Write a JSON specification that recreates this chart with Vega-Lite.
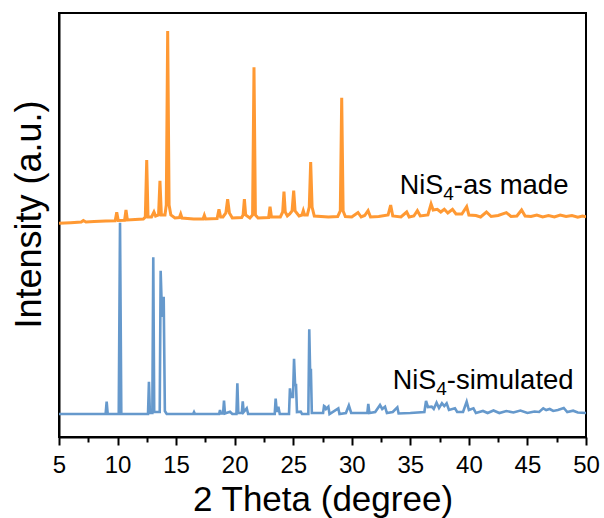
{
  "$schema": "https://vega.github.io/schema/vega-lite/v6.json",
  "width": 527,
  "height": 424,
  "autosize": {"type": "none"},
  "padding": {"left": 59, "top": 13, "right": 18, "bottom": 81},
  "config": {
    "view": {"stroke": "black", "strokeWidth": 2},
    "font": "Liberation Sans",
    "axis": {"labelFont": "Liberation Sans", "titleFont": "Liberation Sans"}
  },
  "datasets": {
    "made": [
      {"x": 5, "y": 213.7}, {"x": 6, "y": 214.3}, {"x": 6.9, "y": 215}, {"x": 7.08, "y": 216.5}, {"x": 7.3, "y": 215},
      {"x": 8, "y": 215.5}, {"x": 9, "y": 216}, {"x": 9.8, "y": 216.3}, {"x": 9.93, "y": 224.7}, {"x": 10.06, "y": 216.5},
      {"x": 10.6, "y": 216.7}, {"x": 10.72, "y": 227}, {"x": 10.84, "y": 217}, {"x": 11.5, "y": 217.5}, {"x": 12.2, "y": 218},
      {"x": 12.37, "y": 220}, {"x": 12.49, "y": 277}, {"x": 12.6, "y": 220}, {"x": 12.9, "y": 220}, {"x": 13.11, "y": 225},
      {"x": 13.25, "y": 221}, {"x": 13.5, "y": 222}, {"x": 13.62, "y": 256.3}, {"x": 13.74, "y": 222}, {"x": 14.05, "y": 222},
      {"x": 14.16, "y": 232}, {"x": 14.28, "y": 406}, {"x": 14.4, "y": 232}, {"x": 14.55, "y": 222}, {"x": 14.9, "y": 219},
      {"x": 15.28, "y": 219.5}, {"x": 15.39, "y": 223}, {"x": 15.5, "y": 219}, {"x": 16.5, "y": 218}, {"x": 17.3, "y": 218},
      {"x": 17.41, "y": 221.7}, {"x": 17.52, "y": 218}, {"x": 18.5, "y": 218.5}, {"x": 18.66, "y": 227.7}, {"x": 18.8, "y": 220},
      {"x": 19.0, "y": 220}, {"x": 19.25, "y": 224}, {"x": 19.4, "y": 237.7}, {"x": 19.55, "y": 224}, {"x": 19.8, "y": 219},
      {"x": 20.6, "y": 219.5}, {"x": 20.72, "y": 222}, {"x": 20.83, "y": 238}, {"x": 20.94, "y": 222}, {"x": 21.3, "y": 219},
      {"x": 21.53, "y": 222}, {"x": 21.65, "y": 369.7}, {"x": 21.77, "y": 222}, {"x": 22.0, "y": 219}, {"x": 22.9, "y": 219.5},
      {"x": 23.02, "y": 230.3}, {"x": 23.14, "y": 220}, {"x": 23.9, "y": 220}, {"x": 24.1, "y": 225}, {"x": 24.21, "y": 245.3},
      {"x": 24.32, "y": 225}, {"x": 24.5, "y": 221}, {"x": 24.7, "y": 223}, {"x": 24.9, "y": 226}, {"x": 25.04, "y": 246.3},
      {"x": 25.16, "y": 226}, {"x": 25.5, "y": 221}, {"x": 25.75, "y": 222}, {"x": 25.86, "y": 226.3}, {"x": 25.97, "y": 222},
      {"x": 26.2, "y": 222}, {"x": 26.37, "y": 230}, {"x": 26.49, "y": 275}, {"x": 26.61, "y": 230}, {"x": 26.8, "y": 221},
      {"x": 28.0, "y": 220}, {"x": 28.8, "y": 220.5}, {"x": 29.02, "y": 226}, {"x": 29.14, "y": 339.3}, {"x": 29.26, "y": 226},
      {"x": 29.45, "y": 220.5}, {"x": 30.0, "y": 220}, {"x": 30.53, "y": 224.5}, {"x": 30.8, "y": 220}, {"x": 31.1, "y": 221.5},
      {"x": 31.39, "y": 226.3}, {"x": 31.6, "y": 220}, {"x": 32.3, "y": 220.5}, {"x": 33.1, "y": 222}, {"x": 33.32, "y": 232},
      {"x": 33.5, "y": 221}, {"x": 34.2, "y": 220}, {"x": 34.69, "y": 225}, {"x": 34.9, "y": 220}, {"x": 35.3, "y": 221},
      {"x": 35.6, "y": 226.3}, {"x": 35.85, "y": 221}, {"x": 36.5, "y": 222}, {"x": 36.77, "y": 233}, {"x": 36.95, "y": 227},
      {"x": 37.3, "y": 227.7}, {"x": 37.6, "y": 225}, {"x": 37.9, "y": 227.7}, {"x": 38.2, "y": 224}, {"x": 38.6, "y": 227.7},
      {"x": 38.9, "y": 223}, {"x": 39.4, "y": 223}, {"x": 39.81, "y": 230.3}, {"x": 40.0, "y": 222}, {"x": 40.6, "y": 221.5},
      {"x": 41.0, "y": 220}, {"x": 41.5, "y": 225}, {"x": 41.9, "y": 220.5}, {"x": 42.5, "y": 221.5}, {"x": 43.2, "y": 224.3},
      {"x": 43.6, "y": 220.5}, {"x": 44.1, "y": 221}, {"x": 44.5, "y": 227}, {"x": 44.8, "y": 221}, {"x": 45.3, "y": 220.5},
      {"x": 45.8, "y": 222}, {"x": 46.3, "y": 220}, {"x": 46.8, "y": 221.5}, {"x": 47.3, "y": 220}, {"x": 47.8, "y": 222},
      {"x": 48.3, "y": 220.5}, {"x": 48.8, "y": 221.5}, {"x": 49.3, "y": 219.8}, {"x": 49.7, "y": 221}, {"x": 50, "y": 220.3}
    ],
    "sim": [
      {"x": 5, "y": 23}, {"x": 8.98, "y": 23}, {"x": 9.07, "y": 35.3}, {"x": 9.16, "y": 23}, {"x": 10.1, "y": 23},
      {"x": 10.21, "y": 214.3}, {"x": 10.32, "y": 23}, {"x": 12.6, "y": 23}, {"x": 12.68, "y": 55.3}, {"x": 12.76, "y": 24},
      {"x": 12.97, "y": 24}, {"x": 13.05, "y": 179.7}, {"x": 13.13, "y": 25}, {"x": 13.6, "y": 25}, {"x": 13.68, "y": 166.3},
      {"x": 13.8, "y": 120}, {"x": 13.94, "y": 140.3}, {"x": 14.04, "y": 26}, {"x": 14.2, "y": 23}, {"x": 16.45, "y": 23},
      {"x": 16.53, "y": 25}, {"x": 16.61, "y": 23}, {"x": 18.67, "y": 23}, {"x": 18.75, "y": 27}, {"x": 18.83, "y": 23.5},
      {"x": 19.01, "y": 23.5}, {"x": 19.09, "y": 36.3}, {"x": 19.17, "y": 23.5}, {"x": 19.6, "y": 25.3}, {"x": 19.8, "y": 23},
      {"x": 20.15, "y": 23}, {"x": 20.23, "y": 53.7}, {"x": 20.31, "y": 24}, {"x": 20.61, "y": 24}, {"x": 20.69, "y": 35.7},
      {"x": 20.77, "y": 25}, {"x": 21.03, "y": 28.7}, {"x": 21.15, "y": 23}, {"x": 23.42, "y": 23}, {"x": 23.5, "y": 38.3},
      {"x": 23.6, "y": 25}, {"x": 23.73, "y": 30.3}, {"x": 23.85, "y": 23}, {"x": 24.64, "y": 23}, {"x": 24.72, "y": 48.7},
      {"x": 24.8, "y": 40}, {"x": 24.98, "y": 40}, {"x": 25.07, "y": 78.3}, {"x": 25.16, "y": 52}, {"x": 25.24, "y": 52},
      {"x": 25.32, "y": 25}, {"x": 25.64, "y": 25.3}, {"x": 25.75, "y": 23}, {"x": 26.29, "y": 23}, {"x": 26.37, "y": 107.7},
      {"x": 26.44, "y": 67}, {"x": 26.51, "y": 67}, {"x": 26.59, "y": 24}, {"x": 27.55, "y": 24}, {"x": 27.63, "y": 31},
      {"x": 27.71, "y": 30.3}, {"x": 27.8, "y": 28}, {"x": 28.0, "y": 30.3}, {"x": 28.1, "y": 23}, {"x": 28.85, "y": 28.7},
      {"x": 28.95, "y": 23}, {"x": 29.5, "y": 24}, {"x": 29.75, "y": 31.5}, {"x": 29.95, "y": 24}, {"x": 30.6, "y": 24},
      {"x": 31.33, "y": 24}, {"x": 31.41, "y": 33}, {"x": 31.5, "y": 24}, {"x": 32.0, "y": 25}, {"x": 32.41, "y": 32},
      {"x": 32.6, "y": 28}, {"x": 32.84, "y": 30.3}, {"x": 33.0, "y": 24}, {"x": 33.5, "y": 25}, {"x": 33.89, "y": 29.7},
      {"x": 34.0, "y": 23.5}, {"x": 35.0, "y": 24}, {"x": 36.2, "y": 25}, {"x": 36.34, "y": 36}, {"x": 36.5, "y": 30},
      {"x": 36.82, "y": 30.3}, {"x": 37.0, "y": 28}, {"x": 37.24, "y": 34.3}, {"x": 37.45, "y": 29}, {"x": 37.7, "y": 33.7},
      {"x": 37.9, "y": 31}, {"x": 38.1, "y": 33.7}, {"x": 38.3, "y": 27}, {"x": 38.81, "y": 28.7}, {"x": 39.0, "y": 25},
      {"x": 39.5, "y": 25}, {"x": 39.81, "y": 35.3}, {"x": 40.0, "y": 27}, {"x": 40.39, "y": 28.7}, {"x": 40.6, "y": 24},
      {"x": 41.2, "y": 26}, {"x": 41.6, "y": 24}, {"x": 42.1, "y": 26.5}, {"x": 42.6, "y": 24}, {"x": 43.2, "y": 26},
      {"x": 43.8, "y": 24.5}, {"x": 44.4, "y": 26.5}, {"x": 45.0, "y": 24}, {"x": 45.6, "y": 25.5}, {"x": 46.0, "y": 25},
      {"x": 46.35, "y": 28.7}, {"x": 46.6, "y": 27}, {"x": 46.9, "y": 28}, {"x": 47.2, "y": 26}, {"x": 47.6, "y": 27},
      {"x": 48.1, "y": 29}, {"x": 48.4, "y": 25}, {"x": 48.9, "y": 26.3}, {"x": 49.3, "y": 24.5}, {"x": 50, "y": 24}
    ],
    "labels": [
      {"x": 34.1, "y": 243, "a": "NiS", "b": "4", "c": "-as made"},
      {"x": 33.5, "y": 48, "a": "NiS", "b": "4", "c": "-simulated"}
    ]
  },
  "encoding": {
    "x": {
      "field": "x",
      "type": "quantitative",
      "scale": {"domain": [5, 50], "nice": false, "zero": false},
      "axis": {
        "values": [5, 7.5, 10, 12.5, 15, 17.5, 20, 22.5, 25, 27.5, 30, 32.5, 35, 37.5, 40, 42.5, 45, 47.5, 50],
        "labelExpr": "datum.value % 5 === 0 ? datum.label : ''",
        "labelFlush": false,
        "labelOverlap": false,
        "grid": false,
        "domainColor": "black",
        "domainWidth": 2,
        "tickColor": "black",
        "tickWidth": 2,
        "tickSize": {"condition": {"test": "datum.value % 5 === 0", "value": 8}, "value": 5},
        "labelFontSize": 24,
        "labelColor": "black",
        "labelPadding": 8,
        "title": "2 Theta (degree)",
        "titleFontSize": 35,
        "titleFontWeight": "normal",
        "titleColor": "black",
        "titlePadding": 5
      }
    },
    "y": {
      "field": "y",
      "type": "quantitative",
      "scale": {"domain": [0, 424], "nice": false, "zero": false},
      "axis": {
        "ticks": false,
        "labels": false,
        "grid": false,
        "domainColor": "black",
        "domainWidth": 2,
        "title": "Intensity (a.u.)",
        "titleFontSize": 36,
        "titleFontWeight": "normal",
        "titleColor": "black",
        "titlePadding": 11,
        "titleY": 201
      }
    }
  },
  "layer": [
    {
      "data": {"name": "sim"},
      "mark": {"type": "line", "color": "#6699CC", "strokeWidth": 2.6, "clip": true}
    },
    {
      "data": {"name": "made"},
      "mark": {"type": "line", "color": "#FF9933", "strokeWidth": 3, "clip": true}
    },
    {
      "data": {"name": "labels"},
      "mark": {"type": "text", "align": "left", "baseline": "alphabetic", "fontSize": 27, "font": "Liberation Sans", "color": "black"},
      "encoding": {"text": {"field": "a"}}
    },
    {
      "data": {"name": "labels"},
      "mark": {"type": "text", "align": "left", "baseline": "alphabetic", "fontSize": 19, "font": "Liberation Sans", "color": "black", "dx": 43.5, "dy": 6},
      "encoding": {"text": {"field": "b"}}
    },
    {
      "data": {"name": "labels"},
      "mark": {"type": "text", "align": "left", "baseline": "alphabetic", "fontSize": 27.5, "font": "Liberation Sans", "color": "black", "dx": 54},
      "encoding": {"text": {"field": "c"}}
    }
  ]
}
